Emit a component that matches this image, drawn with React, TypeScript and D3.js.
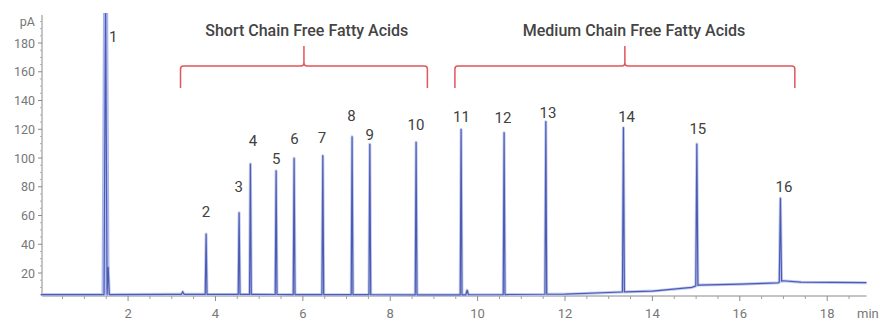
import React from 'react';
import * as d3 from 'd3';

// ---- data ----
const peakNumbers = [1, 2, 3, 4, 5, 6, 7, 8, 9, 10, 11, 12, 13, 14, 15, 16];
const peakTimes = [1.485, 3.786, 4.541, 4.8, 5.388, 5.8, 6.457, 7.127, 7.533, 8.592, 9.622, 10.606, 11.561, 13.337, 15.017, 16.93];
const peakHeights = [215, 47.1, 61.9, 95.8, 91.0, 99.8, 101.6, 114.8, 109.5, 110.9, 119.9, 117.6, 125.3, 121.1, 109.7, 72.0];
const peakHalfWidths = [0.035, 0.02, 0.02, 0.02, 0.02, 0.02, 0.02, 0.02, 0.02, 0.02, 0.02, 0.02, 0.02, 0.022, 0.024, 0.026];
const labelTimes = [1.66, 3.78, 4.53, 4.86, 5.39, 5.81, 6.44, 7.11, 7.53, 8.59, 9.63, 10.58, 11.61, 13.41, 15.04, 17.01];
const labelLevels = [184.2, 62.6, 80, 112.5, 99.8, 113.9, 114.6, 129.7, 116.7, 123, 129.2, 128.5, 131.5, 129, 120.7, 80.5];

const minorTimes = [1.545, 3.25, 9.76];
const minorHeights = [24, 7, 8];
const minorHalfWidths = [0.025, 0.03, 0.03];

const baseTimes = [0, 1.4, 3.0, 6.0, 9.5, 12.0, 13.3, 14.0, 14.9, 15.06, 16.0, 16.88, 16.98, 17.4, 18.9];
const baseLevels = [5.0, 5.0, 5.2, 5.0, 4.8, 5.3, 6.8, 7.4, 10.0, 11.6, 12.2, 13.2, 14.6, 13.6, 13.3];

const yTicks = [20, 40, 60, 80, 100, 120, 140, 160, 180];
const xTicks = [2, 4, 6, 8, 10, 12, 14, 16, 18];

const bracketTitles = ['Short Chain Free Fatty Acids', 'Medium Chain Free Fatty Acids'];
const bracketStarts = [3.2, 9.48];
const bracketEnds = [8.85, 17.26];
const titleTimes = [6.09, 13.58];

const W = 881;
const H = 322;

export default function App() {
  const x = d3.scaleLinear().domain([0.03, 18.9]).range([42, 866.5]);
  const y = d3.scaleLinear().domain([4.7, 199.5]).range([295, 15]);
  const base = d3.scaleLinear().domain(baseTimes).range(baseLevels).clamp(true);

  type Pt = [number, number];
  const spikes: { t: number; h: number; w: number }[] = [];
  peakTimes.forEach((t, i) => spikes.push({ t, h: peakHeights[i], w: peakHalfWidths[i] }));
  minorTimes.forEach((t, i) => spikes.push({ t, h: minorHeights[i], w: minorHalfWidths[i] }));

  const pts: Pt[] = [];
  baseTimes.forEach((t, i) => {
    const inside = spikes.some((s) => t >= s.t - s.w && t <= s.t + s.w);
    if (!inside) pts.push([t, baseLevels[i]]);
  });
  spikes.forEach((s) => {
    pts.push([s.t - s.w, base(s.t - s.w)]);
    pts.push([s.t, s.h]);
    pts.push([s.t + s.w, base(s.t + s.w)]);
  });
  pts.sort((a, b) => a[0] - b[0]);

  const line = d3
    .line<Pt>()
    .x((d) => x(d[0]))
    .y((d) => y(d[1]));
  const signal = line(pts) || '';

  const p1: Pt[] = [
    [peakTimes[0] - peakHalfWidths[0], base(peakTimes[0] - peakHalfWidths[0])],
    [peakTimes[0], peakHeights[0]],
    [peakTimes[0] + peakHalfWidths[0], base(peakTimes[0] + peakHalfWidths[0])],
  ];
  const peak1Path = line(p1) || '';

  const minorX = d3.range(0.5, 18.9, 0.5).filter((v) => Math.abs(v / 2 - Math.round(v / 2)) > 1e-6);
  const minorY = d3.range(10, 196, 5).filter((v) => v % 20 !== 0);

  const axisColor = '#8a8a8a';
  const font = 'Roboto, "Noto Sans", sans-serif';

  return (
    <svg
      width={W}
      height={H}
      viewBox={`0 0 ${W} ${H}`}
      style={{ position: 'absolute', left: 0, top: 0, background: '#fff' }}
      fontFamily={font}
    >
      <defs>
        <clipPath id="plotClip">
          <rect x={40} y={13} width={830} height={290} />
        </clipPath>
      </defs>

      {/* brackets */}
      {bracketTitles.map((title, i) => {
        const x0 = x(bracketStarts[i]);
        const x1 = x(bracketEnds[i]);
        const xc = (x0 + x1) / 2;
        const hy = 66;
        const d = `M${x0},88 V${hy + 3} Q${x0},${hy} ${x0 + 3},${hy} H${xc - 3} Q${xc},${hy} ${xc},${hy - 3} V46 M${xc},${hy - 3} Q${xc},${hy} ${xc + 3},${hy} H${x1 - 3} Q${x1},${hy} ${x1},${hy + 3} V88`;
        return (
          <g key={title}>
            <path d={d} fill="none" stroke="#e0565a" strokeWidth={1.5} />
            <text x={x(titleTimes[i])} y={35.5} textAnchor="middle" fontSize={16} fontWeight={500} fill="#444">
              {title}
            </text>
          </g>
        );
      })}

      {/* y axis */}
      <line x1={42} x2={42} y1={y(199.5)} y2={295} stroke={axisColor} strokeWidth={1} />
      {minorY.map((v) => (
        <line key={'my' + v} x1={40} x2={42} y1={y(v)} y2={y(v)} stroke="#b0b0b0" strokeWidth={1} />
      ))}
      {yTicks.map((v) => (
        <g key={'y' + v}>
          <line x1={38} x2={42} y1={y(v)} y2={y(v)} stroke={axisColor} strokeWidth={1} />
          <text x={35} y={y(v) + 4.5} textAnchor="end" fontSize={12.5} fill="#777">
            {v}
          </text>
        </g>
      ))}
      <text x={35} y={y(199.5) + 11} textAnchor="end" fontSize={12.5} fill="#777">
        pA
      </text>

      {/* x axis */}
      <line x1={42} x2={866.5} y1={296} y2={296} stroke={axisColor} strokeWidth={1} />
      {minorX.map((v) => (
        <line key={'mx' + v} x1={x(v)} x2={x(v)} y1={296} y2={299} stroke="#a0a0a0" strokeWidth={1} />
      ))}
      {xTicks.map((v) => (
        <g key={'x' + v}>
          <line x1={x(v)} x2={x(v)} y1={296} y2={301} stroke={axisColor} strokeWidth={1} />
          <text x={x(v)} y={318} textAnchor="middle" fontSize={13} fill="#777">
            {v}
          </text>
        </g>
      ))}
      <text x={857} y={318} fontSize={13} fill="#777">
        min
      </text>

      {/* signal */}
      <g clipPath="url(#plotClip)">
        <path d={peak1Path} fill="none" stroke="#a9b6ee" strokeWidth={5} strokeLinejoin="round" />
        <path d={signal} fill="none" stroke="#b7c1ef" strokeWidth={3} strokeLinejoin="round" opacity={0.85} />
        <path d={signal} fill="none" stroke="#4c5cb0" strokeWidth={1.2} strokeLinejoin="round" />
      </g>

      {/* peak labels */}
      {peakNumbers.map((n, i) => (
        <text
          key={'l' + n}
          x={x(labelTimes[i])}
          y={y(labelLevels[i]) + 5.5}
          textAnchor="middle"
          fontSize={15}
          fill="#404040"
        >
          {n}
        </text>
      ))}
    </svg>
  );
}
